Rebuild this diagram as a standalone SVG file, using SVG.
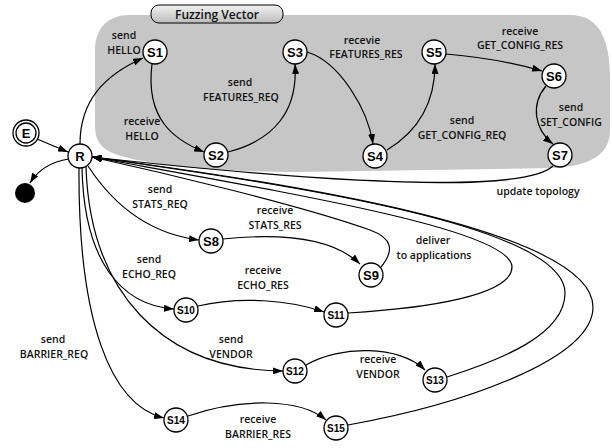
<svg xmlns="http://www.w3.org/2000/svg" width="612" height="448" viewBox="0 0 612 448">
<defs>
<marker id="arr" markerWidth="10" markerHeight="7" refX="10" refY="3.5" orient="auto" markerUnits="userSpaceOnUse">
<path d="M0,0 L10,3.5 L0,7 z" fill="#000"/>
</marker>
<linearGradient id="tabg" x1="0" y1="0" x2="0" y2="1">
<stop offset="0" stop-color="#f2f2f2"/>
<stop offset="1" stop-color="#bcbcbc"/>
</linearGradient>
<style>
.n circle{fill:#fff;stroke:#000;stroke-width:1.3}
.n text{font-family:"Liberation Sans",Arial,sans-serif;font-weight:bold;font-size:13px;text-anchor:middle;fill:#000}
.n text.s{font-size:10px}
.e path{fill:none;stroke:#000;stroke-width:1.2}
.e path.a{marker-end:url(#arr)}
.lbl text{font-family:"Open Sans","DejaVu Sans",sans-serif;font-weight:600;font-size:10.5px;text-anchor:middle;fill:#111}
</style>
</defs>
<rect width="612" height="448" fill="#fff"/>
<g id="fuzzing-region">
<path d="M130,15 L570,15 C600,15 610,40 610,80 L610,130 C610,158 585,166 552,168 L300,172 C210,172 150,165 118,155 C102,150 95,142 95,125 L95,50 C95,28 108,15 130,15 Z" fill="#c6c6c6"/>
<rect x="151" y="5" width="132" height="18" rx="8" ry="8" fill="url(#tabg)" stroke="#000" stroke-width="1"/>
<text x="217" y="19" font-family="'Open Sans','DejaVu Sans',sans-serif" font-weight="600" font-size="12" text-anchor="middle" fill="#111">Fuzzing Vector</text>
</g>
<g id="connectors" class="e">
<path class="a" d="M37,139 L68,152"/>
<path class="a" d="M69,159 C50,162 38,170 30,183"/>
<path class="a" d="M80,144 C80,100 105,75 143,58"/>
<path class="a" d="M152,64 C145,120 175,140 204,152"/>
<path class="a" d="M228,152 C275,140 298,110 295,64"/>
<path class="a" d="M307,52 C340,62 368,110 373,144"/>
<path class="a" d="M387,150 C420,130 435,100 435,64"/>
<path class="a" d="M446,54 C480,57 515,63 542,71"/>
<path class="a" d="M546,86 C530,105 535,130 553,144"/>
<path class="a" d="M553,166 C520,196 300,180 92,157"/>
<path class="a" d="M381,267 C395,250 392,238 370,230 C300,205 160,172 92,157"/>
<path class="a" d="M348,313 C430,308 512,295 512,267 C512,230 300,195 92,157"/>
<path class="a" d="M447,377 C500,360 565,335 565,293 C565,225 290,185 92,157"/>
<path class="a" d="M348,425 C460,405 593,360 593,307 C593,230 290,183 92,157"/>
<path class="a" d="M88,166 C120,215 160,235 199,240"/>
<path class="a" d="M223,239 C290,232 335,240 360,264"/>
<path class="a" d="M82,168 C84,260 120,305 174,309"/>
<path class="a" d="M198,306 C240,296 290,300 324,312"/>
<path class="a" d="M86,167 C90,290 160,370 283,371"/>
<path class="a" d="M306,365 C340,345 400,345 425,370"/>
<path class="a" d="M79,168 C78,320 110,405 164,418"/>
<path class="a" d="M188,416 C240,398 300,398 326,420"/>
</g>
<g id="labels" class="lbl">
<text x="124" y="39">send</text><text x="124" y="54">HELLO</text>
<text x="142" y="125">receive</text><text x="142" y="140">HELLO</text>
<text x="240" y="86">send</text><text x="241" y="101">FEATURES_REQ</text>
<text x="362" y="44">recevie</text><text x="366" y="58">FEATURES_RES</text>
<text x="520" y="35">receive</text><text x="520" y="49">GET_CONFIG_RES</text>
<text x="462" y="124">send</text><text x="462" y="139">GET_CONFIG_REQ</text>
<text x="571" y="111">send</text><text x="571" y="126">SET_CONFIG</text>
<text x="538" y="195">update topology</text>
<text x="160" y="193">send</text><text x="160" y="208">STATS_REQ</text>
<text x="275" y="214">receive</text><text x="275" y="229">STATS_RES</text>
<text x="433" y="244">deliver</text><text x="434" y="259">to applications</text>
<text x="149" y="263">send</text><text x="149" y="278">ECHO_REQ</text>
<text x="263" y="274">receive</text><text x="263" y="289">ECHO_RES</text>
<text x="53" y="343">send</text><text x="54" y="358">BARRIER_REQ</text>
<text x="231" y="343">send</text><text x="231" y="358">VENDOR</text>
<text x="378" y="363">receive</text><text x="378" y="378">VENDOR</text>
<text x="258" y="423">receive</text><text x="258" y="438">BARRIER_RES</text>
</g>
<g id="E" class="n"><circle cx="26" cy="133" r="13"/><circle cx="26" cy="133" r="10"/><text x="26" y="138">E</text></g>
<g id="R" class="n"><circle cx="80" cy="156" r="12"/><text x="80" y="161">R</text></g>
<g id="final"><circle cx="25" cy="193" r="10" fill="#000"/></g>
<g id="S1" class="n"><circle cx="155" cy="52" r="12"/><text x="155" y="57">S1</text></g>
<g id="S2" class="n"><circle cx="216" cy="155" r="12"/><text x="216" y="160">S2</text></g>
<g id="S3" class="n"><circle cx="295" cy="52" r="12"/><text x="295" y="57">S3</text></g>
<g id="S4" class="n"><circle cx="375" cy="156" r="12"/><text x="375" y="161">S4</text></g>
<g id="S5" class="n"><circle cx="434" cy="52" r="12"/><text x="434" y="57">S5</text></g>
<g id="S6" class="n"><circle cx="554" cy="76" r="12"/><text x="554" y="81">S6</text></g>
<g id="S7" class="n"><circle cx="560" cy="155" r="12"/><text x="560" y="160">S7</text></g>
<g id="S8" class="n"><circle cx="211" cy="241" r="12"/><text x="211" y="246">S8</text></g>
<g id="S9" class="n"><circle cx="371" cy="275" r="12"/><text x="371" y="280">S9</text></g>
<g id="S10" class="n"><circle cx="186" cy="310" r="12"/><text class="s" x="186" y="314">S10</text></g>
<g id="S11" class="n"><circle cx="336" cy="315" r="12"/><text class="s" x="336" y="319">S11</text></g>
<g id="S12" class="n"><circle cx="295" cy="371" r="12"/><text class="s" x="295" y="375">S12</text></g>
<g id="S13" class="n"><circle cx="435" cy="380" r="12"/><text class="s" x="435" y="384">S13</text></g>
<g id="S14" class="n"><circle cx="176" cy="420" r="12"/><text class="s" x="176" y="424">S14</text></g>
<g id="S15" class="n"><circle cx="336" cy="428" r="12"/><text class="s" x="336" y="432">S15</text></g>
</svg>
